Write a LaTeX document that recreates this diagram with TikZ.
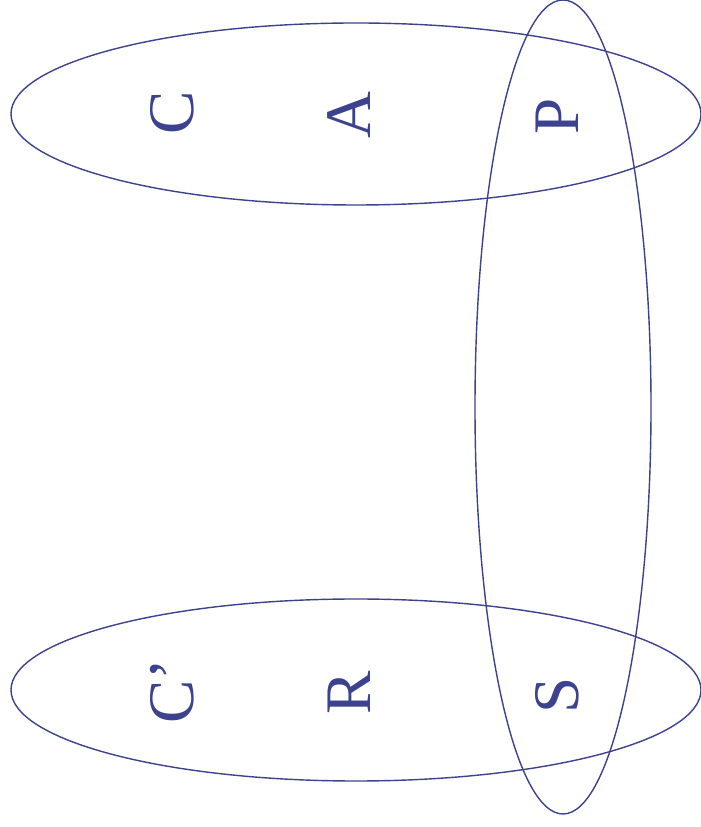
\documentclass[tikz,border=0pt]{standalone}
\usepackage{fontspec}
\setmainfont{Liberation Serif}
\definecolor{ink}{RGB}{60,66,142}
\begin{document}
\begin{tikzpicture}[x=1pt,y=1pt,
  ring/.style={draw=ink,line width=1.4pt},
  lbl/.style={text=ink,rotate=90,anchor=base,inner sep=0pt,font=\fontsize{65}{78}\selectfont}]
\useasboundingbox (0,0) rectangle (701,827);
\draw[ring] (356,713) ellipse [x radius=345, y radius=91];
\draw[ring] (356,137) ellipse [x radius=345, y radius=91];
\draw[ring] (563,420) ellipse [x radius=88, y radius=407];
\node[lbl] (c) at (193,714) {C};
\node[lbl] (a) at (370,712) {A};
\node[lbl] (p) at (578,711) {P};
\node[lbl] (c2) at (193,136) {C’};
\node[lbl] (r) at (370,134) {R};
\node[lbl] (s) at (578,132) {S};
\end{tikzpicture}
\end{document}
